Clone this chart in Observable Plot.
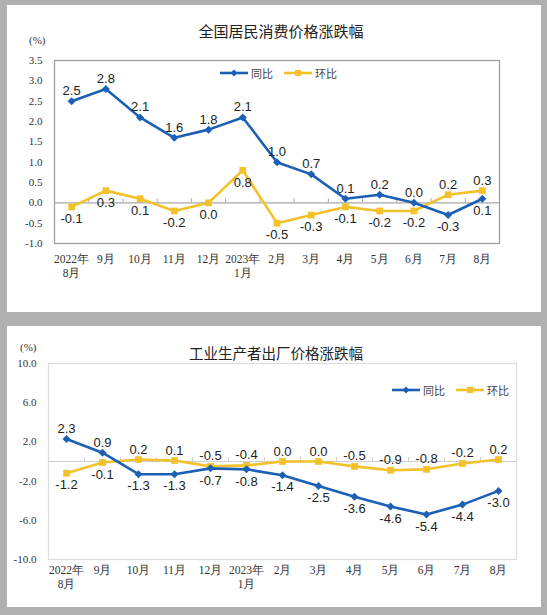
<!DOCTYPE html>
<html>
<head>
<meta charset="utf-8">
<script src="https://cdn.jsdelivr.net/npm/d3@7"></script>
<script src="https://cdn.jsdelivr.net/npm/@observablehq/plot@0.6"></script>
<style>
  body { margin: 0; background: #b0b0b0; }
  #page { position: relative; width: 547px; height: 615px; background: #b0b0b0; overflow: hidden; }
  .panel { position: absolute; left: 7px; width: 534px; background: #fff; }
  .panel svg { position: absolute; left: 0; top: 0; }
  .title { position: absolute; transform: translateX(-50%); white-space: nowrap;
           font-family: "Noto Sans CJK SC", sans-serif; color: #222; }
  .unit { position: absolute; font-family: "Liberation Serif", serif; font-size: 11px; color: #333; }
  .legend { position: absolute; display: flex; align-items: center; gap: 3px;
            font-family: "Noto Sans CJK SC", sans-serif; font-size: 11px; color: #444; }
  .legend svg { position: static; }
</style>
</head>
<body>
<div id="page">
  <div class="panel" id="cpi" style="top:5px;height:307px">
    <div class="title" style="left:274px;top:15px;font-size:15px">全国居民消费价格涨跌幅</div>
    <div class="unit" style="left:22px;top:29px">(%)</div>
  </div>
  <div class="panel" id="ppi" style="top:326px;height:281px">
    <div class="title" style="left:269px;top:16px;font-size:14.5px">工业生产者出厂价格涨跌幅</div>
    <div class="unit" style="left:13px;top:15px">(%)</div>
  </div>
</div>
<script>
const months = ["2022年\n8月", "9月", "10月", "11月", "12月", "2023年\n1月",
  "2月", "3月", "4月", "5月", "6月", "7月", "8月"];

// 全国居民消费价格 (CPI)
const cpiYoY = [2.5, 2.8, 2.1, 1.6, 1.8, 2.1, 1.0, 0.7, 0.1, 0.2, 0.0, -0.3, 0.1];
const cpiMoM = [-0.1, 0.3, 0.1, -0.2, 0.0, 0.8, -0.5, -0.3, -0.1, -0.2, -0.2, 0.2, 0.3];
const cpiTicks = [-1.0, -0.5, 0.0, 0.5, 1.0, 1.5, 2.0, 2.5, 3.0, 3.5];

// 工业生产者出厂价格 (PPI)
const ppiYoY = [2.3, 0.9, -1.3, -1.3, -0.7, -0.8, -1.4, -2.5, -3.6, -4.6, -5.4, -4.4, -3.0];
const ppiMoM = [-1.2, -0.1, 0.2, 0.1, -0.5, -0.4, 0.0, 0.0, -0.5, -0.9, -0.8, -0.2, 0.2];
const ppiTicks = [-10.0, -6.0, -2.0, 2.0, 6.0, 10.0];

const blue = "#1c60b6";
const yellow = "#f3c22a";
const fmt = d => d.toFixed(1);

// label goes above the point when the series is the higher of the two
function labels(values, other) {
  const up = values.map((v, i) => ({i, v})).filter(d => d.v >= other[d.i]);
  const down = values.map((v, i) => ({i, v})).filter(d => d.v < other[d.i]);
  const opts = {x: "i", y: "v", text: d => fmt(d.v), fill: "#222",
    fontFamily: "Liberation Sans, Arial, sans-serif", fontSize: 13};
  return [
    Plot.text(up, {...opts, lineAnchor: "bottom", dy: -6}),
    Plot.text(down, {...opts, lineAnchor: "top", dy: 7})
  ];
}

function chart({yoy, mom, domain, ticks, width, height, margins, frameColor, zeroColor, xPad}) {
  const idx = (d, i) => i;
  return Plot.plot({
    width, height,
    ...margins,
    style: {fontFamily: "Liberation Serif, serif", fontSize: "11px", color: "#333", background: "transparent"},
    x: {type: "linear", domain: [-0.5, 12.5]},
    y: {domain},
    marks: [
      Plot.axisX({ticks: d3.range(13), tickFormat: i => months[i], tickSize: 0,
        tickPadding: xPad, lineHeight: 1.25, fontSize: 11.5, label: null}),
      Plot.axisY({ticks, tickFormat: fmt, tickSize: 0, tickPadding: 12, fontSize: 11, label: null}),
      Plot.frame({stroke: frameColor, strokeWidth: 1.2}),
      Plot.ruleY([0], {stroke: zeroColor, strokeWidth: 1.2}),
      Plot.ruleX(d3.range(12).map(i => i + 0.5), {x: d => d, y1: 0, y2: 0, insetBottom: 4, stroke: zeroColor}),
      Plot.line(mom, {x: idx, y: d => d, stroke: yellow, strokeWidth: 2.6}),
      Plot.dot(mom, {x: idx, y: d => d, symbol: "square", r: 3.8, fill: yellow}),
      Plot.line(yoy, {x: idx, y: d => d, stroke: blue, strokeWidth: 2.6}),
      Plot.dot(yoy, {x: idx, y: d => d, symbol: "diamond2", r: 3.6, fill: blue}),
      ...labels(yoy, mom),
      ...labels(mom, yoy)
    ]
  });
}

function legend(parent, left, top) {
  const box = document.createElement("div");
  box.className = "legend";
  box.style.left = left + "px";
  box.style.top = top + "px";
  box.innerHTML = `
    <svg width="28" height="10"><line x1="0" y1="5" x2="28" y2="5" stroke="${blue}" stroke-width="2.6"/>
      <path d="M14 1.5L17.5 5L14 8.5L10.5 5Z" fill="${blue}"/></svg><span>同比</span>
    <svg width="28" height="10" style="margin-left:8px"><line x1="0" y1="5" x2="28" y2="5" stroke="${yellow}" stroke-width="2.6"/>
      <rect x="11" y="2" width="6" height="6" fill="${yellow}"/></svg><span>环比</span>`;
  parent.appendChild(box);
}

const cpiBox = document.getElementById("cpi");
cpiBox.prepend(chart({
  yoy: cpiYoY, mom: cpiMoM, domain: [-1, 3.5], ticks: cpiTicks,
  width: 534, height: 307,
  margins: {marginLeft: 47, marginRight: 42, marginTop: 55, marginBottom: 69},
  frameColor: "#9a9a9a", zeroColor: "#a8a8a8", xPad: 9
}));
legend(cpiBox, 213, 60);

const ppiBox = document.getElementById("ppi");
ppiBox.prepend(chart({
  yoy: ppiYoY, mom: ppiMoM, domain: [-10, 10], ticks: ppiTicks,
  width: 534, height: 281,
  margins: {marginLeft: 41, marginRight: 25, marginTop: 37, marginBottom: 48},
  frameColor: "#dcdcdc", zeroColor: "#cfcfcf", xPad: 4
}));
legend(ppiBox, 385, 56);
</script>
</body>
</html>
